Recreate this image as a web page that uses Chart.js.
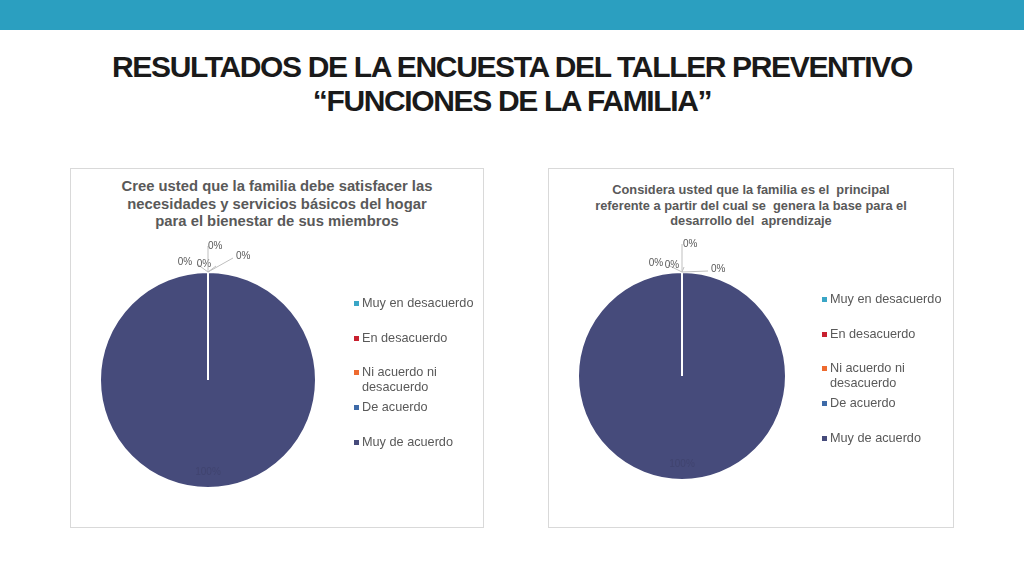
<!DOCTYPE html>
<html>
<head>
<meta charset="utf-8">
<title>Resultados de la encuesta</title>
<script src="https://cdn.jsdelivr.net/npm/chart.js"></script>
<style>
  body {
    margin: 0;
    width: 1024px;
    height: 576px;
    background: #ffffff;
    font-family: "Liberation Sans", Arial, Helvetica, sans-serif;
    position: relative;
    overflow: hidden;
  }
  .banner {
    position: absolute;
    left: 0; top: 0;
    width: 1024px; height: 30px;
    background: #2b9fc0;
  }
  h1 {
    position: absolute;
    left: 0; top: 50px;
    width: 1024px;
    margin: 0;
    text-align: center;
    font-size: 30px;
    line-height: 34px;
    font-weight: bold;
    letter-spacing: -1.35px;
    color: #1a1a1a;
  }
  .panel {
    position: absolute;
    top: 168px;
    height: 360px;
    border: 1px solid #d9d9d9;
    box-sizing: border-box;
  }
  .panel canvas {
    position: absolute;
    left: 0; top: 0;
  }
  .ptitle {
    position: absolute;
    left: 0; width: 100%;
    text-align: center;
    font-weight: bold;
    color: #595959;
  }
  .legend {
    position: absolute;
    font-size: 12.7px;
    color: #595959;
  }
  .legend div {
    position: relative;
    padding-left: 8px;
    line-height: 15px;
  }
  .legend span {
    position: absolute;
    left: 0; top: 5px;
    width: 5px; height: 5px;
  }
</style>
</head>
<body>
<div class="banner"></div>
<h1>RESULTADOS DE LA ENCUESTA DEL TALLER PREVENTIVO<br>“FUNCIONES DE LA FAMILIA”</h1>

<div class="panel" id="panel1" style="left:70px;width:414px;">
  <div class="ptitle" style="top:9px;font-size:14.8px;line-height:17.5px;">Cree usted que la familia debe satisfacer las<br>necesidades y servicios básicos del hogar<br>para el bienestar de sus miembros</div>
  <canvas id="pie1" width="414" height="360"></canvas>
  <div class="legend" id="legend1" style="left:283px;top:127px;"></div>
</div>

<div class="panel" id="panel2" style="left:548px;width:406px;">
  <div class="ptitle" style="top:13px;font-size:12.8px;line-height:15.5px;">Considera usted que la familia es el &nbsp;principal<br>referente a partir del cual se &nbsp;genera la base para el<br>desarrollo del &nbsp;aprendizaje</div>
  <canvas id="pie2" width="406" height="360"></canvas>
  <div class="legend" id="legend2" style="left:273px;top:123px;"></div>
</div>

<script>
  // Data
  const categories = ["Muy en desacuerdo", "En desacuerdo", "Ni acuerdo ni desacuerdo", "De acuerdo", "Muy de acuerdo"];
  const legendLines = [["Muy en desacuerdo"], ["En desacuerdo"], ["Ni acuerdo ni", "desacuerdo"], ["De acuerdo"], ["Muy de acuerdo"]];
  const valuesChart1 = [0, 0, 0, 0, 100];
  const valuesChart2 = [0, 0, 0, 0, 100];
  const colors = ["#3aa6c6", "#c8202f", "#ee6a2f", "#3e6aa8", "#464b7b"];

  // label offsets (from the arc's outer point) for the small slices
  const labelOffsets1 = [[-23, -10], [-4, -8], [0, -26], [28, -16], null];
  const labelOffsets2 = [[-26, -9], [-10, -7], [1, -28], [29, -3], null];

  function buildLegend(id, gaps) {
    const box = document.getElementById(id);
    legendLines.forEach((lines, i) => {
      const row = document.createElement("div");
      row.style.marginTop = (i === 0 ? 0 : gaps[i]) + "px";
      row.innerHTML = '<span style="background:' + colors[i] + '"></span>' + lines.join("<br>");
      box.appendChild(row);
    });
  }
  buildLegend("legend1", [0, 20, 19, 5, 20]);
  buildLegend("legend2", [0, 20, 19, 5, 20]);

  // draws "0%" labels with leader lines, and the value inside the big slice
  const pieLabels = {
    id: "pieLabels",
    afterDatasetsDraw(chart, args, opts) {
      const ctx = chart.ctx;
      const meta = chart.getDatasetMeta(0);
      const data = chart.data.datasets[0].data;
      const total = data.reduce((a, b) => a + b, 0);
      ctx.save();
      ctx.font = "10px 'Liberation Sans', Arial, sans-serif";
      meta.data.forEach((arc, i) => {
        const pct = Math.round(data[i] / total * 100) + "%";
        const mid = (arc.startAngle + arc.endAngle) / 2;
        const off = opts.offsets[i];
        if (!off) {
          const r = arc.outerRadius * 0.85;
          ctx.fillStyle = "#40446f";
          ctx.textAlign = "center";
          ctx.textBaseline = "middle";
          ctx.fillText(pct, arc.x + Math.cos(mid) * r, arc.y + Math.sin(mid) * r);
          return;
        }
        const ax = arc.x + Math.cos(mid) * arc.outerRadius;
        const ay = arc.y + Math.sin(mid) * arc.outerRadius;
        const lx = ax + off[0];
        const ly = ay + off[1];
        ctx.strokeStyle = "#bfbfbf";
        ctx.lineWidth = 1;
        ctx.beginPath();
        ctx.moveTo(ax, ay);
        if (i === 2) {
          ctx.lineTo(ax, ly);
        } else {
          ctx.lineTo(lx + (off[0] > 0 ? -3 : 12), ly + 2);
        }
        ctx.stroke();
        ctx.fillStyle = "#595959";
        ctx.textAlign = off[0] > 0 || i === 2 ? "left" : "center";
        ctx.textBaseline = "middle";
        ctx.fillText(pct, lx, ly);
      });
      ctx.restore();
    }
  };

  function makePie(id, values, padding, offsets) {
    new Chart(document.getElementById(id), {
      type: "pie",
      data: {
        labels: categories,
        datasets: [{
          data: values,
          backgroundColor: colors,
          borderColor: "#ffffff",
          borderWidth: 2
        }]
      },
      options: {
        responsive: false,
        animation: false,
        layout: { padding: padding },
        plugins: {
          legend: { display: false },
          tooltip: { enabled: false },
          pieLabels: { offsets: offsets }
        }
      },
      plugins: [pieLabels]
    });
  }

  makePie("pie1", valuesChart1, { left: 28, right: 168, top: 102, bottom: 40 }, labelOffsets1);
  makePie("pie2", valuesChart2, { left: 28, right: 168, top: 102, bottom: 48 }, labelOffsets2);
</script>
</body>
</html>
